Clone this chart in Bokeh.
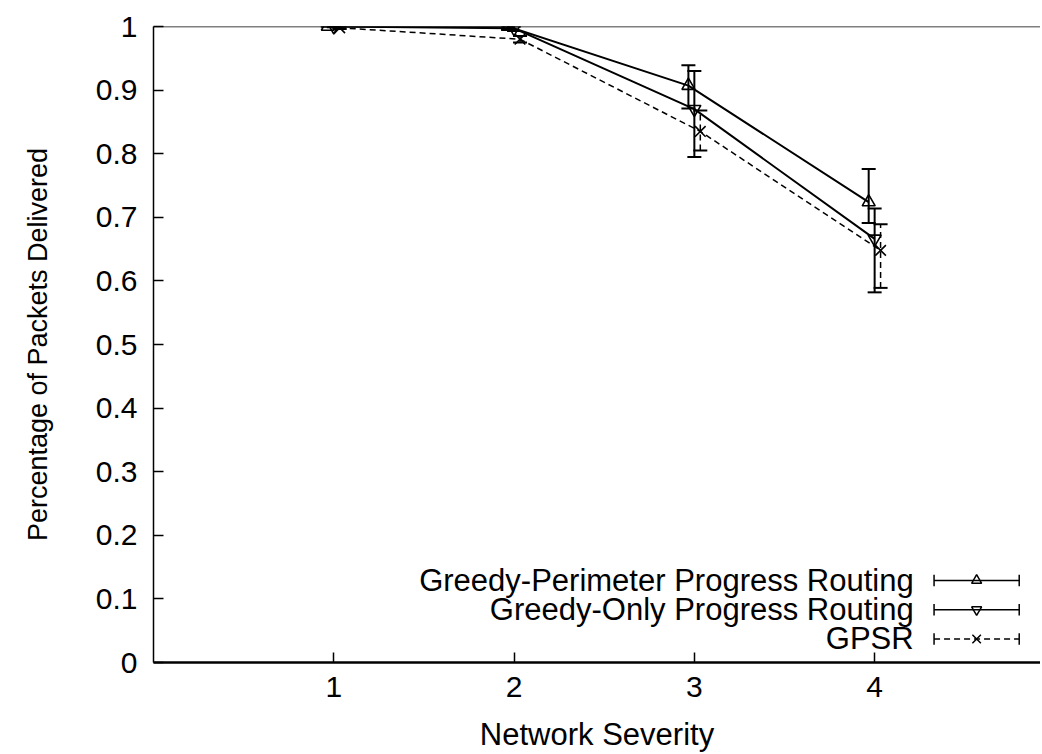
from bokeh.plotting import figure
from bokeh.models import (Range1d, ColumnDataSource, Whisker, TeeHead, Span,
                          FixedTicker, Label)
from bokeh.embed import file_html
from bokeh.resources import INLINE

# ---- data ----
severity = [1, 2, 3, 4]
series_names = ["Greedy-Perimeter Progress Routing",
                "Greedy-Only Progress Routing",
                "GPSR"]
perimeter_mean = [1.000, 1.000, 0.907, 0.724]
perimeter_low = [1.000, 0.995, 0.871, 0.691]
perimeter_high = [1.000, 1.000, 0.939, 0.776]
only_mean = [1.000, 0.997, 0.870, 0.666]
only_low = [0.999, 0.993, 0.795, 0.582]
only_high = [1.000, 1.000, 0.930, 0.714]
gpsr_mean = [0.998, 0.980, 0.835, 0.648]
gpsr_low = [0.996, 0.975, 0.805, 0.589]
gpsr_high = [1.000, 0.985, 0.868, 0.689]
x_ticks = [1, 2, 3, 4]
y_ticks = [0, 0.1, 0.2, 0.3, 0.4, 0.5, 0.6, 0.7, 0.8, 0.9, 1]

FONT = "Liberation Sans"

p = figure(width=1040, height=754, output_backend="svg", toolbar_location=None,
           x_range=Range1d(0, 4.92), y_range=Range1d(0, 1),
           min_border_left=153, min_border_right=0, min_border_top=26,
           min_border_bottom=90)
p.outline_line_color = None
p.grid.visible = False
p.background_fill_color = "white"
p.border_fill_color = "white"

for ax in (p.xaxis[0], p.yaxis[0]):
    ax.major_tick_in = 10
    ax.major_tick_out = 0
    ax.minor_tick_line_color = None
    ax.axis_line_color = "black"
    ax.major_tick_line_color = "black"
    ax.major_label_text_font = FONT
    ax.major_label_text_font_size = "30px"
    ax.major_label_text_color = "black"
    ax.axis_label_text_font = FONT
    ax.axis_label_text_font_style = "normal"
    ax.axis_label_text_color = "black"

p.xaxis[0].axis_label_text_font_size = "31px"
p.yaxis[0].axis_label_text_font_size = "27px"
p.xaxis[0].ticker = FixedTicker(ticks=x_ticks)
p.yaxis[0].ticker = FixedTicker(ticks=y_ticks)
p.yaxis[0].major_label_overrides = {0: "0", 1: "1"}
p.xaxis[0].axis_line_width = 2.5
p.yaxis[0].axis_line_width = 1.5
p.xaxis[0].major_tick_line_width = 1.5
p.yaxis[0].major_tick_line_width = 1.5
p.xaxis.axis_label = "Network Severity"
p.yaxis.axis_label = "Percentage of Packets Delivered"
p.xaxis[0].major_label_standoff = 14
p.xaxis[0].axis_label_standoff = 17
p.yaxis[0].major_label_standoff = 16
p.yaxis[0].axis_label_standoff = 40

# top border
p.add_layout(Span(location=1, dimension="width", line_color="black", line_width=1.5))

offsets = [-0.033, 0.0, 0.033]
series = [
    (perimeter_mean, perimeter_low, perimeter_high, "triangle", "solid", 2.0),
    (only_mean, only_low, only_high, "inverted_triangle", "solid", 2.0),
    (gpsr_mean, gpsr_low, gpsr_high, "x", "6 4", 1.5),
]

for (mean, low, high, marker, dash, lw), off in zip(series, offsets):
    xs = [x + off for x in severity]
    src = ColumnDataSource(dict(x=xs, y=mean, lower=low, upper=high))
    p.line("x", "y", source=src, line_color="black", line_width=lw, line_dash=dash)
    w = Whisker(base="x", lower="lower", upper="upper", source=src,
                line_color="black", line_width=2 if dash == "solid" else 1.5,
                line_dash=dash,
                upper_head=TeeHead(size=14, line_color="black", line_width=2),
                lower_head=TeeHead(size=14, line_color="black", line_width=2))
    p.add_layout(w)
    p.scatter("x", "y", source=src, marker=marker, size=13 if marker != "x" else 15,
              fill_color=None, line_color="black", line_width=1.6)

# ---- legend (bottom right, text left of sample) ----
p.extra_x_ranges = {"fx": Range1d(0, 1)}
p.extra_y_ranges = {"fy": Range1d(0, 1)}
rows_y = [0.129, 0.083, 0.037]
text_x = 0.857
s_x0, s_x1, s_xm = 0.880, 0.976, 0.928
cap = 0.009
for name, (mean, low, high, marker, dash, lw), yy in zip(series_names, series, rows_y):
    p.add_layout(Label(x=text_x, y=yy, x_range_name="fx", y_range_name="fy",
                       text=name, text_align="right", text_baseline="middle",
                       text_font=FONT, text_font_size="31px", text_color="black"))
    p.segment(x0=[s_x0], y0=[yy], x1=[s_x1], y1=[yy], x_range_name="fx",
              y_range_name="fy", line_color="black", line_width=1.5, line_dash=dash)
    p.segment(x0=[s_x0, s_x1], y0=[yy - cap, yy - cap], x1=[s_x0, s_x1],
              y1=[yy + cap, yy + cap], x_range_name="fx", y_range_name="fy",
              line_color="black", line_width=1.5)
    p.scatter(x=[s_xm], y=[yy], x_range_name="fx", y_range_name="fy", marker=marker,
              size=10 if marker != "x" else 12, fill_color=None, line_color="black",
              line_width=1.5)

open("out.html", "w").write(file_html(p, INLINE))
